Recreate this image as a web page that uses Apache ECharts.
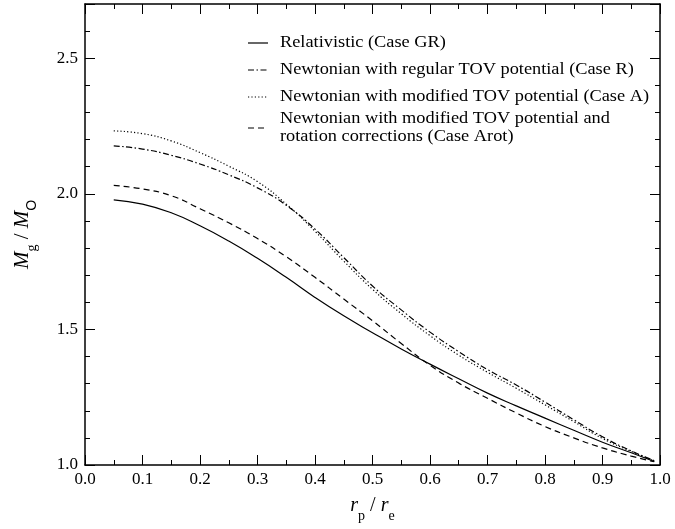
<!DOCTYPE html>
<html><head><meta charset="utf-8">
<script src="https://cdn.jsdelivr.net/npm/echarts@6/dist/echarts.min.js"></script>
<style>html,body{margin:0;padding:0;background:#fff}#c{width:675px;height:529px}</style>
</head><body><div id="c"></div>
<script>
var xVals = [0.05,0.10,0.15,0.20,0.25,0.30,0.35,0.40,0.45,0.50,0.55,0.60,0.65,0.70,0.75,0.80,0.85,0.90,0.95,0.99];
var caseGR   = [1.978,1.962,1.930,1.882,1.826,1.762,1.692,1.618,1.550,1.488,1.428,1.372,1.318,1.265,1.218,1.173,1.128,1.084,1.045,1.013];
var caseR    = [2.177,2.165,2.142,2.110,2.070,2.022,1.958,1.870,1.765,1.660,1.572,1.490,1.418,1.352,1.295,1.232,1.167,1.104,1.052,1.016];
var caseA    = [2.232,2.222,2.195,2.152,2.102,2.045,1.962,1.862,1.752,1.648,1.558,1.477,1.405,1.342,1.283,1.222,1.160,1.098,1.050,1.015];
var caseArot = [2.031,2.018,1.993,1.945,1.893,1.835,1.768,1.692,1.612,1.532,1.448,1.368,1.302,1.246,1.192,1.142,1.100,1.063,1.033,1.012];
var legendNames = ['Relativistic (Case GR)','Newtonian with regular TOV potential (Case R)','Newtonian with modified TOV potential (Case A)','Newtonian with modified TOV potential and\nrotation corrections (Case Arot)'];
var xTicks = ['0.0','0.1','0.2','0.3','0.4','0.5','0.6','0.7','0.8','0.9','1.0'];
var yTicks = ['1.0','1.5','2.0','2.5'];

function pairs(ys){ return xVals.map(function(x,i){ return [x, ys[i]]; }); }
var serif = '"Liberation Serif", "Times New Roman", serif';
var dashes = [null, [6,2.5,1.5,2.5], [1.2,2.2], [6,4]];
var datas = [caseGR, caseR, caseA, caseArot];

var chart = echarts.init(document.getElementById('c'), null, {renderer:'canvas'});
var axisCommon = {
  type:'value', min:0, max:1, interval:0.1,
  axisLine:{show:true, onZero:false, lineStyle:{color:'#000', width:1.5}},
  axisTick:{show:true, inside:true, length:10, lineStyle:{color:'#000', width:1}},
  minorTick:{show:true, splitNumber:2, length:5, lineStyle:{color:'#000', width:1}},
  splitLine:{show:false}
};
var yCommon = {
  type:'value', min:1.0, max:2.7, interval:0.5,
  axisLine:{show:true, onZero:false, lineStyle:{color:'#000', width:1.5}},
  axisTick:{show:true, inside:true, length:10, lineStyle:{color:'#000', width:1}},
  minorTick:{show:true, splitNumber:5, length:5, lineStyle:{color:'#000', width:1}},
  splitLine:{show:false}
};
var series = datas.map(function(d,i){
  return {
    type:'line', name: legendNames[i], data: pairs(d), showSymbol:false, symbol:'none',
    smooth:0.5, xAxisIndex:0, yAxisIndex:0, animation:false,
    lineStyle:{color:'#000', width:1.2, type: dashes[i] ? dashes[i] : 'solid'}
  };
});

// legend drawn as graphic elements
var legendY = [43, 70, 97, 128];
var graphics = [];
legendNames.forEach(function(n,i){
  graphics.push({type:'line', shape:{x1:248,y1:legendY[i],x2:268,y2:legendY[i]},
    style:{stroke:'#000', lineWidth:1.2, lineDash: dashes[i] || null}});
  graphics.push({type:'text', x:280, y:legendY[i], scaleX:1.145,
    style:{text:n, font:'16px ' + serif, fill:'#000', textVerticalAlign:'middle', verticalAlign:'middle', lineHeight:18}});
});

chart.setOption({
  backgroundColor:'#fff',
  animation:false,
  grid:{left:85, right:15, top:4, bottom:64, containLabel:false},
  xAxis:[
    Object.assign({}, axisCommon, {position:'bottom',
      axisLabel:{show:true, color:'#000', fontFamily:serif, fontSize:17, margin:6,
        formatter:function(v){ return xTicks[Math.round(v*10)]; }},
      name:'{i|r}{s|p}{n| / }{i|r}{s|e}', nameLocation:'middle', nameGap:31,
      nameTextStyle:{rich:{
        i:{fontFamily:serif, fontStyle:'italic', fontSize:20, color:'#000', padding:[0,0,7,0], verticalAlign:'bottom'},
        n:{fontFamily:serif, fontSize:20, color:'#000', padding:[0,0,7,0], verticalAlign:'bottom'},
        s:{fontFamily:serif, fontSize:14, color:'#000', verticalAlign:'bottom'}
      }}}),
    Object.assign({}, axisCommon, {position:'top', axisLabel:{show:false}})
  ],
  yAxis:[
    Object.assign({}, yCommon, {position:'left',
      axisLabel:{show:true, color:'#000', fontFamily:serif, fontSize:17, margin:7,
        formatter:function(v){ var k = Math.round((v-1)*2); return (Math.abs((v-1)*2-k)<1e-6 && yTicks[k]) ? yTicks[k] : ''; }},
      name:'{i|M}{s|g}{n| / }{i|M}{o|O}', nameLocation:'middle', nameGap:46, nameRotate:90,
      nameTextStyle:{rich:{
        i:{fontFamily:serif, fontStyle:'italic', fontSize:21, color:'#000', padding:[0,0,6,0], verticalAlign:'bottom'},
        n:{fontFamily:serif, fontSize:21, color:'#000', padding:[0,0,6,0], verticalAlign:'bottom'},
        s:{fontFamily:serif, fontSize:14, color:'#000', verticalAlign:'bottom'},
        o:{fontFamily:'"Liberation Sans", Arial, sans-serif', fontSize:14, color:'#000', verticalAlign:'bottom'}
      }}}),
    Object.assign({}, yCommon, {position:'right', axisLabel:{show:false}})
  ],
  series: series,
  graphic: graphics
});
</script></body></html>
